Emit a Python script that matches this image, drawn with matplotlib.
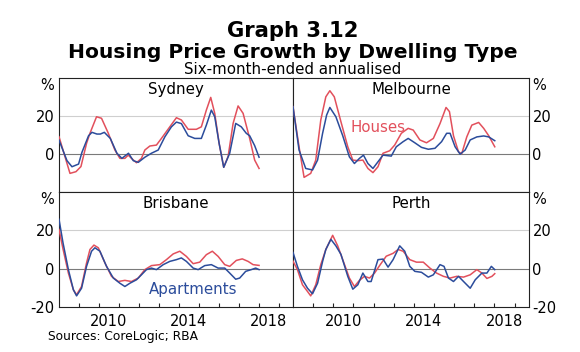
import matplotlib.pyplot as plt
from matplotlib.ticker import FixedLocator

# Six-month-ended annualised growth, %
syd_h_t = [2008.0, 2008.55, 2008.85, 2009.1, 2009.38, 2009.55, 2009.88, 2010.13, 2010.47, 2010.8,
           2011.05, 2011.3, 2011.47, 2011.63, 2011.88, 2012.13, 2012.3, 2012.55, 2012.88, 2013.13,
           2013.55, 2013.88, 2014.13, 2014.47, 2014.88, 2015.13, 2015.38, 2015.6, 2015.8, 2016.02,
           2016.25, 2016.47, 2016.72, 2016.97, 2017.22, 2017.55, 2017.8, 2018.02]
syd_h_v = [9.1, -10.2, -9.3, -6.6, 5.6, 10.9, 19.6, 18.8, 10.9, 2.1,
           -2.3, -2.3, -0.6, -2.3, -4.6, -2.3, 2.1, 4.2, 4.7, 8.2,
           14.3, 19.1, 17.9, 13.0, 13.0, 14.3, 23.1, 29.8, 21.4, 5.6,
           -7.0, -1.3, 16.1, 25.3, 21.4, 8.2, -3.2, -7.6]
syd_a_t = [2008.0, 2008.4, 2008.65, 2008.98, 2009.15, 2009.48, 2009.65, 2009.9, 2010.07, 2010.27,
           2010.57, 2010.9, 2011.15, 2011.48, 2011.72, 2011.97, 2012.3, 2012.63, 2012.97, 2013.3,
           2013.63, 2013.88, 2014.13, 2014.47, 2014.8, 2015.13, 2015.38, 2015.63, 2015.8, 2016.02,
           2016.25, 2016.55, 2016.85, 2017.13, 2017.38, 2017.55, 2017.8, 2018.02]
syd_a_v = [7.3, -3.5, -6.7, -5.3, 0.9, 9.6, 11.4, 10.5, 10.5, 11.4,
           8.2, 0.4, -2.3, 0.4, -3.5, -4.4, -1.7, 0.4, 2.1, 9.0,
           14.3, 16.8, 16.0, 9.6, 8.2, 8.2, 15.2, 23.1, 19.6, 5.6,
           -7.0, 0.4, 16.1, 14.3, 10.9, 9.6, 4.4, -1.7]

mel_h_t = [2008.0, 2008.3, 2008.55, 2008.88, 2009.13, 2009.38, 2009.63, 2009.83, 2010.05, 2010.38,
           2010.72, 2010.97, 2011.22, 2011.47, 2011.72, 2011.97, 2012.22, 2012.47, 2012.8, 2013.05,
           2013.38, 2013.72, 2013.97, 2014.3, 2014.63, 2014.97, 2015.3, 2015.6, 2015.77, 2015.97,
           2016.22, 2016.38, 2016.63, 2016.88, 2017.22, 2017.47, 2017.72, 2018.02]
mel_h_v = [24.9, 3.8, -12.3, -10.2, -3.2, 17.9, 30.1, 33.3, 30.1, 17.0,
           3.8, -3.2, -3.5, -3.2, -7.6, -9.8, -6.7, 0.4, 1.7, 4.7,
           10.9, 13.5, 12.6, 7.4, 5.9, 8.2, 16.0, 24.5, 22.3, 9.6,
           1.1, 0.2, 9.0, 15.2, 16.6, 13.5, 9.6, 3.8]
mel_a_t = [2008.0, 2008.3, 2008.63, 2008.97, 2009.22, 2009.47, 2009.67, 2009.83, 2010.13, 2010.47,
           2010.8, 2011.05, 2011.3, 2011.5, 2011.72, 2011.97, 2012.22, 2012.47, 2012.88, 2013.13,
           2013.47, 2013.72, 2014.05, 2014.38, 2014.72, 2015.05, 2015.38, 2015.63, 2015.8, 2016.05,
           2016.3, 2016.55, 2016.8, 2017.13, 2017.47, 2017.72, 2018.02]
mel_a_v = [24.9, 2.1, -7.6, -8.4, -3.2, 10.9, 20.5, 24.5, 19.6, 9.6,
           -1.5, -5.0, -2.3, -0.6, -5.0, -7.6, -4.1, -0.6, -1.1, 3.8,
           6.5, 8.2, 5.9, 3.5, 2.5, 3.0, 6.5, 10.9, 10.9, 3.8,
           -0.1, 2.1, 7.4, 9.0, 9.5, 9.0, 7.0]

bri_h_t = [2008.0, 2008.2, 2008.47, 2008.72, 2008.88, 2009.13, 2009.38, 2009.55, 2009.75, 2009.97,
           2010.3, 2010.63, 2010.97, 2011.3, 2011.63, 2011.97, 2012.3, 2012.63, 2013.05, 2013.38,
           2013.72, 2014.05, 2014.38, 2014.72, 2015.05, 2015.38, 2015.68, 2015.97, 2016.3, 2016.55,
           2016.88, 2017.18, 2017.47, 2017.72, 2018.02]
bri_h_v = [20.5, 10.3, -2.3, -11.0, -13.6, -9.3, 3.0, 10.0, 12.3, 10.9,
           3.0, -4.0, -6.7, -6.1, -6.7, -4.9, -0.5, 1.6, 2.1, 4.7,
           7.7, 9.1, 6.4, 2.6, 3.4, 7.3, 9.1, 6.4, 2.1, 1.2,
           4.3, 5.1, 3.8, 2.1, 1.7]
bri_a_t = [2008.0, 2008.2, 2008.47, 2008.72, 2008.88, 2009.13, 2009.38, 2009.63, 2009.8, 2010.05,
           2010.38, 2010.72, 2011.05, 2011.3, 2011.55, 2011.88, 2012.13, 2012.38, 2012.63, 2012.88,
           2013.22, 2013.55, 2013.88, 2014.13, 2014.38, 2014.72, 2014.97, 2015.3, 2015.63, 2015.97,
           2016.3, 2016.55, 2016.85, 2017.05, 2017.35, 2017.63, 2017.85, 2018.02]
bri_a_v = [25.8, 13.5, -0.5, -11.0, -14.2, -10.2, 1.2, 9.1, 10.9, 9.1,
           1.2, -4.9, -7.6, -9.3, -7.6, -5.8, -3.2, -0.5, 0.3, -0.5,
           2.1, 3.8, 4.7, 5.6, 3.8, 0.3, -0.5, 1.6, 2.1, 0.3,
           0.3, -2.3, -5.5, -4.9, -1.4, -0.5, 0.3, -0.5]

per_h_t = [2008.0, 2008.22, 2008.47, 2008.72, 2008.88, 2009.13, 2009.38, 2009.63, 2009.97, 2010.22,
           2010.47, 2010.8, 2011.05, 2011.3, 2011.55, 2011.8, 2012.05, 2012.3, 2012.63, 2012.97,
           2013.22, 2013.47, 2013.8, 2014.13, 2014.47, 2014.8, 2015.13, 2015.47, 2015.8, 2016.13,
           2016.47, 2016.8, 2017.13, 2017.38, 2017.63, 2017.88, 2018.02]
per_h_v = [3.9, -0.5, -8.4, -11.9, -14.2, -8.4, 2.1, 10.0, 17.4, 11.9,
           4.7, -4.9, -9.3, -6.1, -4.0, -4.9, -2.3, 1.6, 6.5, 8.0,
           10.0, 9.1, 4.7, 3.4, 3.4, 0.3, -2.3, -4.0, -4.9, -4.0,
           -4.4, -3.2, -0.5, -2.3, -5.1, -4.0, -2.6]
per_a_t = [2008.0, 2008.22, 2008.47, 2008.72, 2008.97, 2009.22, 2009.47, 2009.63, 2009.88, 2010.13,
           2010.38, 2010.72, 2010.97, 2011.22, 2011.47, 2011.72, 2011.88, 2012.22, 2012.47, 2012.72,
           2012.97, 2013.3, 2013.55, 2013.8, 2014.05, 2014.38, 2014.72, 2014.97, 2015.3, 2015.5,
           2015.72, 2015.97, 2016.22, 2016.47, 2016.8, 2017.05, 2017.38, 2017.63, 2017.85, 2018.02]
per_a_v = [8.5, 1.2, -5.8, -10.2, -13.1, -7.6, 3.8, 10.0, 15.3, 11.9,
           7.5, -4.0, -10.7, -8.4, -2.3, -6.7, -6.7, 4.7, 5.0, 0.8,
           4.7, 11.9, 9.1, 1.2, -1.4, -1.9, -4.4, -3.2, 2.1, 1.2,
           -4.9, -6.7, -4.0, -6.7, -10.2, -5.8, -2.3, -2.3, 1.2, -0.5]

cities = ["Sydney", "Melbourne", "Brisbane", "Perth"]
year_labels = [2010, 2014, 2018]
year_ticks = list(range(2009, 2020))

RED = "#e2505c"
BLUE = "#2b4c9b"

fig = plt.figure(figsize=(5.8, 3.52), dpi=100)
W, H = 580, 352


def box(x0, y0, x1, y1):
    return [x0 / W, 1 - y1 / H, (x1 - x0) / W, (y1 - y0) / H]


axes = [
    fig.add_axes(box(59, 78, 293, 192)),
    fig.add_axes(box(293, 78, 529, 192)),
    fig.add_axes(box(59, 192, 293, 307)),
    fig.add_axes(box(293, 192, 529, 307)),
]

series = [
    (syd_h_t, syd_h_v, syd_a_t, syd_a_v),
    (mel_h_t, mel_h_v, mel_a_t, mel_a_v),
    (bri_h_t, bri_h_v, bri_a_t, bri_a_v),
    (per_h_t, per_h_v, per_a_t, per_a_v),
]

for i, ax in enumerate(axes):
    ht, hv, at, av = series[i]
    ax.set_xlim(2008.0, 2019.72)
    ax.set_ylim(-20, 40)
    ax.axhline(20, color="#cfcfcf", lw=0.8, zorder=1)
    ax.axhline(0, color="#7a7a7a", lw=0.8, zorder=1)
    ax.plot(ht, hv, color=RED, lw=1.1, zorder=3)
    ax.plot(at, av, color=BLUE, lw=1.1, zorder=4)
    for s in ax.spines.values():
        s.set_color("#222222")
        s.set_linewidth(0.8)
    ax.set_facecolor("white")
    ax.text(0.5, 0.9, cities[i], transform=ax.transAxes, ha="center", va="center",
            fontsize=10.8)

    top = i < 2
    if top:
        ax.set_yticks([37, 20, 0])
        ax.set_yticklabels(["%", "20", "0"])
    else:
        ax.set_yticks([37, 20, 0, -20])
        ax.set_yticklabels(["%", "20", "0", "-20"])
    right = i % 2 == 1
    if right:
        ax.yaxis.tick_right()
        ax.tick_params(axis="y", length=0, pad=2.5, labelsize=10.5)
    else:
        ax.tick_params(axis="y", length=0, pad=3.5, labelsize=10.5)

    if top:
        ax.set_xticks([])
    else:
        ax.set_xticks([y + 0.5 for y in year_labels])
        ax.set_xticklabels([str(y) for y in year_labels])
        ax.xaxis.set_minor_locator(FixedLocator(year_ticks))
        ax.tick_params(axis="x", which="major", length=0, pad=5, labelsize=10.5)
        ax.tick_params(axis="x", which="minor", direction="in", length=3, width=0.8,
                       color="#222222")

axes[1].text(2012.2, 14.2, "Houses", color=RED, ha="center", va="center", fontsize=10.8)
axes[2].text(2014.7, -11, "Apartments", color=BLUE, ha="center", va="center", fontsize=10.8)

fig.text(293 / W, 1 - 37 / H, "Graph 3.12", ha="center", va="baseline",
         fontsize=15.2, fontweight="bold")
fig.text(293 / W, 1 - 58 / H, "Housing Price Growth by Dwelling Type", ha="center",
         va="baseline", fontsize=14.6, fontweight="bold")
fig.text(293 / W, 1 - 73.5 / H, "Six-month-ended annualised", ha="center", va="baseline",
         fontsize=10.8)
fig.text(48 / W, 1 - 340 / H, "Sources: CoreLogic; RBA", ha="left", va="baseline",
         fontsize=8.8)

fig.savefig("out.png", dpi=100, facecolor="white")
